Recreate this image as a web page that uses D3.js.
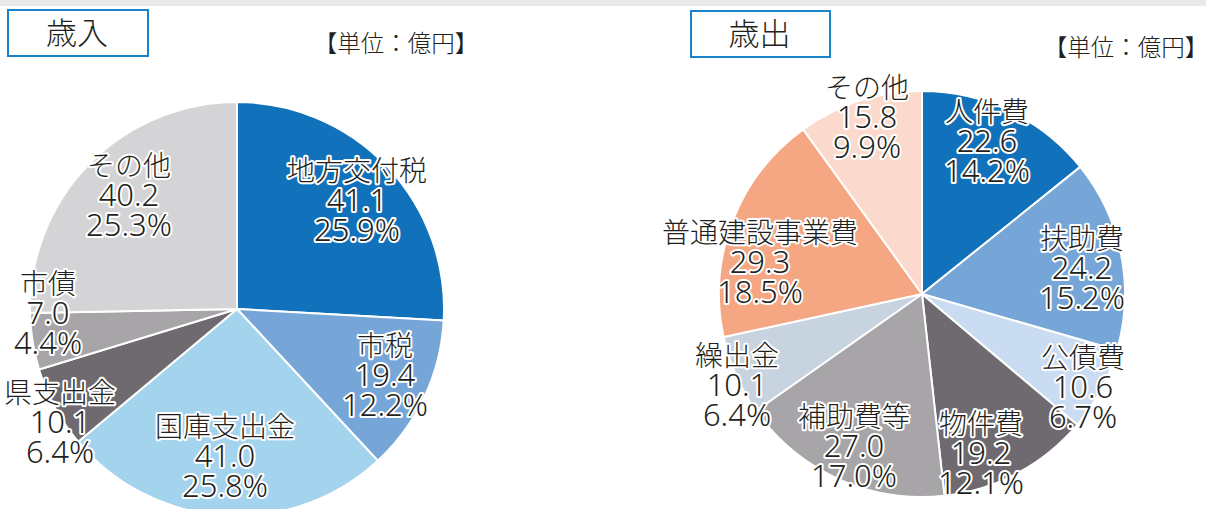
<!DOCTYPE html>
<html><head><meta charset="utf-8">
<script src="https://cdn.jsdelivr.net/npm/d3@7"></script>
<style>
html,body{margin:0;padding:0;background:#fff;}
svg{display:block;font-family:"Noto Sans CJK JP","Noto Sans",sans-serif;}
</style></head>
<body>
<svg id="c" width="1206" height="509"></svg>
<script>
// ---- data ----
const revenueCategories = ["地方交付税","市税","国庫支出金","県支出金","市債","その他"];
const revenueValues = [41.1, 19.4, 41.0, 10.1, 7.0, 40.2];
const revenuePercents = ["25.9%","12.2%","25.8%","6.4%","4.4%","25.3%"];
const revenueColors = ["#1172bb","#76a6d7","#a4d3ee","#6f6a6f","#a8a5a8","#d4d4d6"];

const expendCategories = ["人件費","扶助費","公債費","物件費","補助費等","繰出金","普通建設事業費","その他"];
const expendValues = [22.6, 24.2, 10.6, 19.2, 27.0, 10.1, 29.3, 15.8];
const expendPercents = ["14.2%","15.2%","6.7%","12.1%","17.0%","6.4%","18.5%","9.9%"];
const expendColors = ["#1172bb","#76a6d7","#cadcf1","#6f6a6f","#a8a5a8","#c8d3e0","#f5a683","#fbdacd"];

const titles = ["歳入","歳出"];
const unitLabel = "【単位：億円】";

// ---- layout ----
const svg = d3.select("#c");
svg.append("rect").attr("x",0).attr("y",0).attr("width",1206).attr("height",6).attr("fill","#e8e9eb");

const charts = [
  {cats:revenueCategories, vals:revenueValues, pcts:revenuePercents, cols:revenueColors,
   cx:237, cy:309, r:207, box:[8,10,140,46], title:titles[0], unit:[396,44],
   labels:[[357,200],[385,375],[225,456],[60,422],[48,313],[129,195]]},
  {cats:expendCategories, vals:expendValues, pcts:expendPercents, cols:expendColors,
   cx:922, cy:294, r:203, box:[691,11,139,46], title:titles[1], unit:[1126,48],
   labels:[[987,141],[1082,268],[1083,387],[981,453],[854,446],[737,385],[760,262],[867,117]]}
];

charts.forEach(ch=>{
  const b = ch.box;
  svg.append("rect").attr("x",b[0]).attr("y",b[1]).attr("width",b[2]).attr("height",b[3])
    .attr("fill","#fff").attr("stroke","#1a82cb").attr("stroke-width",2);
  svg.append("text").attr("x",b[0]+b[2]/2-1).attr("y",b[1]+b[3]/2).attr("dy","0.36em")
    .attr("text-anchor","middle").attr("font-size",31).attr("font-weight",300)
    .attr("fill","#231f20").text(ch.title);
  svg.append("text").attr("x",ch.unit[0]).attr("y",ch.unit[1]).attr("dy","0.36em")
    .attr("text-anchor","middle").attr("font-size",23.5).attr("font-weight",300)
    .attr("fill","#231f20").text(unitLabel);

  const pie = d3.pie().sort(null).value(d=>d);
  const arc = d3.arc().innerRadius(0).outerRadius(ch.r);
  const g = svg.append("g").attr("transform",`translate(${ch.cx},${ch.cy})`);
  const arcs = pie(ch.vals);
  g.selectAll("path").data(arcs).join("path")
    .attr("d",arc).attr("fill",(d,i)=>ch.cols[i])
    .attr("stroke","#fff").attr("stroke-width",2).attr("stroke-linejoin","round");

  const lg = svg.append("g");
  arcs.forEach((a,i)=>{
    const [lx,ly] = ch.labels[i];
    const lines = [ch.cats[i], ch.vals[i].toFixed(1), ch.pcts[i]];
    lines.forEach((s,k)=>{
      const isNum = k>0;
      lg.append("text").attr("text-anchor","middle")
        .attr("x",lx).attr("y",ly+(k-1)*29.5).attr("dy","0.36em")
        .attr("font-family", isNum ? "'Noto Sans',sans-serif" : "'Noto Sans CJK JP',sans-serif")
        .attr("font-size", isNum ? 31 : 28)
        .attr("font-weight",300)
        .attr("fill","#231f20").attr("stroke","#fff").attr("stroke-width",4)
        .attr("stroke-linejoin","round").attr("paint-order","stroke")
        .text(s);
    });
  });
});
</script>
</body></html>
